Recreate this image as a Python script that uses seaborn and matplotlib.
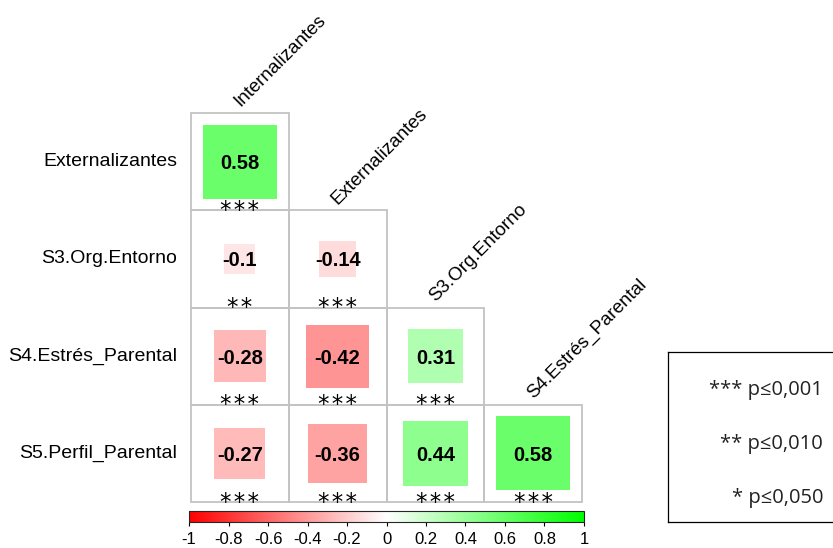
import numpy as np
import pandas as pd
import matplotlib
matplotlib.use("Agg")
import matplotlib.pyplot as plt
from matplotlib.colors import LinearSegmentedColormap, ListedColormap, Normalize
from matplotlib.patches import Rectangle
import matplotlib.cm as cm
import seaborn as sns

filas = ['Externalizantes', 'S3.Org.Entorno', 'S4.Estrés_Parental', 'S5.Perfil_Parental']
columnas = ['Internalizantes', 'Externalizantes', 'S3.Org.Entorno', 'S4.Estrés_Parental']

corr_ext = [0.58]
corr_org = [-0.10, -0.14]
corr_estres = [-0.28, -0.42, 0.31]
corr_perfil = [-0.27, -0.36, 0.44, 0.58]

sig_ext = ['***']
sig_org = ['**', '***']
sig_estres = ['***', '***', '***']
sig_perfil = ['***', '***', '***', '***']

etiquetas_leyenda = ['*** p≤0,001', '** p≤0,010', '* p≤0,050']

n = len(filas)
corr = np.full((n, n), np.nan)
sig = [[''] * n for _ in range(n)]
for i, (vals, ss) in enumerate(zip([corr_ext, corr_org, corr_estres, corr_perfil],
                                   [sig_ext, sig_org, sig_estres, sig_perfil])):
    corr[i, :len(vals)] = vals
    sig[i][:len(ss)] = ss
df = pd.DataFrame(corr, index=filas, columns=columnas)

sns.set_style("white")
plt.rcParams['font.family'] = ['Liberation Sans', 'DejaVu Sans']
plt.rcParams['text.color'] = 'black'
plt.rcParams['xtick.color'] = 'black'
plt.rcParams['ytick.color'] = 'black'

cmap = LinearSegmentedColormap.from_list('rg', ['#FF0000', '#FFFFFF', '#00FF00'])
norm = Normalize(-1, 1)

fig = plt.figure(figsize=(8.33, 5.48), dpi=100)
ax = fig.add_axes([0.228, 0.082, 0.472, 0.7135])

# fondo blanco solo en el triangulo inferior (seaborn pone las etiquetas)
fondo = pd.DataFrame(0.0, index=filas, columns=columnas)
sns.heatmap(fondo, mask=df.isna(), cmap=ListedColormap(['white']), cbar=False,
            linewidths=0, square=False, ax=ax,
            xticklabels=False, yticklabels=filas)
ax.tick_params(axis='y', length=0, labelsize=14, pad=9)
plt.setp(ax.get_yticklabels(), rotation=0)
ax.set_xlim(-0.01, n + 0.01)
ax.set_ylim(n + 0.01, -0.01)

for i in range(n):
    for j in range(n):
        r = df.iloc[i, j]
        if np.isnan(r):
            continue
        # borde gris de la celda
        ax.add_patch(Rectangle((j, i), 1, 1, facecolor='none', edgecolor='#c3c3c3',
                               linewidth=1.3, zorder=1))
        lado = np.sqrt(abs(r))
        ax.add_patch(Rectangle((j + 0.5 - lado / 2, i + 0.5 - lado / 2), lado, lado,
                               facecolor=cmap(norm(r)), edgecolor='none', zorder=2))
        ax.text(j + 0.5, i + 0.52, f'{r:g}', ha='center', va='center', fontsize=14.5,
                fontweight='bold', zorder=3)
        ax.text(j + 0.5, i + 1.0, '\u200a'.join(sig[i][j]), ha='center', va='center',
                fontsize=16.5, family=['DejaVu Sans'], zorder=3)

for j, c in enumerate(columnas):
    ax.text(j + 0.53, j - 0.03, c, rotation=45, rotation_mode='anchor', ha='left', va='bottom',
            fontsize=13.5, clip_on=False)

for s in ax.spines.values():
    s.set_visible(False)

# barra de color
cax = fig.add_axes([0.227, 0.0474, 0.474, 0.020])
sm = cm.ScalarMappable(norm=norm, cmap=cmap)
cb = fig.colorbar(sm, cax=cax, orientation='horizontal', ticks=np.linspace(-1, 1, 11))
cb.ax.set_xticklabels([f'{t:g}' for t in np.round(np.linspace(-1, 1, 11), 1)])
cb.ax.tick_params(labelsize=12, length=3, width=0.8, pad=4)
cb.outline.set_linewidth(0.8)

# leyenda de significacion
lax = fig.add_axes([0.802, 0.047, 0.2, 0.31])
lax.set_xticks([])
lax.set_yticks([])
for s in lax.spines.values():
    s.set_linewidth(0.9)
    s.set_color('black')
for k, t in enumerate(etiquetas_leyenda):
    lax.text(0.93, 0.78 - k * 0.32, t, ha='right', va='center', fontsize=14.5,
             family=['Open Sans', 'DejaVu Sans'], color='#222222', transform=lax.transAxes)

fig.savefig('out.png', dpi=100)
